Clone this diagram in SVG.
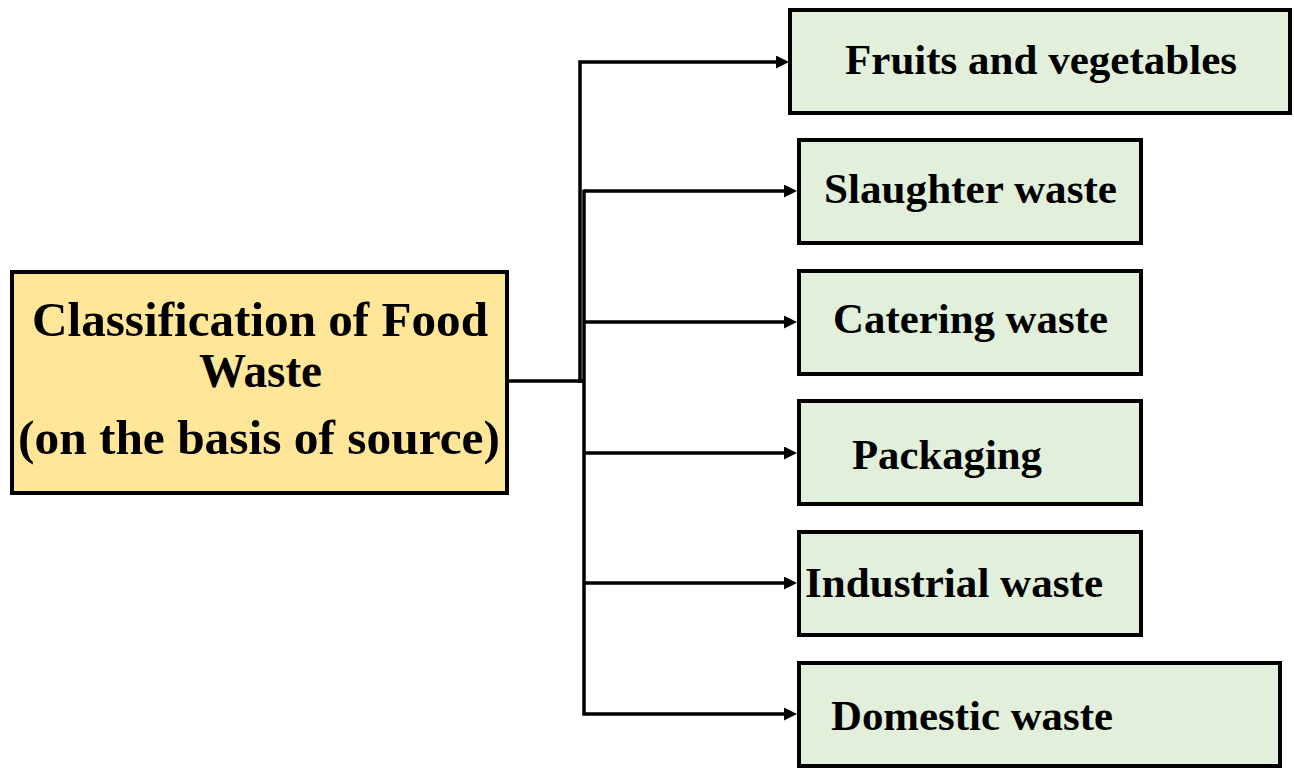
<svg xmlns="http://www.w3.org/2000/svg" width="1294" height="768" viewBox="0 0 1294 768">
<style>
.box{stroke:#000;stroke-width:4}
.main{fill:#FFE699}
.leaf{fill:#E2EFDA}
.t{font-family:"Liberation Serif","Times New Roman",serif;font-weight:bold;fill:#000}
.title{font-size:48px}
.lbl{font-size:43px}
.c{fill:none;stroke:#000;stroke-width:3.5;stroke-linejoin:miter}
</style>
<defs>
<marker id="ah" markerUnits="userSpaceOnUse" markerWidth="13" markerHeight="13" viewBox="0 0 13 13" refX="7" refY="6.5" orient="auto">
<path d="M0,0 L13,6.5 L0,13 z" fill="#000"/>
</marker>
</defs>
<rect width="1294" height="768" fill="#fff"/>
<g id="connectors">
<path class="c" d="M507,381 H584"/>
<path class="c" d="M580,383 V62 H783" marker-end="url(#ah)"/>
<path class="c" d="M584,189.5 V714 H791" marker-end="url(#ah)"/>
<path class="c" d="M584,191 H791" marker-end="url(#ah)"/>
<path class="c" d="M584,322 H791" marker-end="url(#ah)"/>
<path class="c" d="M584,453 H791" marker-end="url(#ah)"/>
<path class="c" d="M584,583 H791" marker-end="url(#ah)"/>
</g>
<g id="root">
<rect class="box main" x="12" y="272" width="495" height="221"/>
<text class="t title" x="260" y="336" text-anchor="middle" textLength="456" lengthAdjust="spacingAndGlyphs">Classification of Food</text>
<text class="t title" x="260.5" y="387" text-anchor="middle" textLength="123" lengthAdjust="spacingAndGlyphs">Waste</text>
<text class="t title" x="259" y="454" text-anchor="middle" textLength="482" lengthAdjust="spacingAndGlyphs">(on the basis of source)</text>
</g>
<g id="fruits">
<rect class="box leaf" x="790" y="10" width="500" height="103"/>
<text class="t lbl" x="845" y="74" textLength="392" lengthAdjust="spacingAndGlyphs">Fruits and vegetables</text>
</g>
<g id="slaughter">
<rect class="box leaf" x="799" y="140" width="342" height="103"/>
<text class="t lbl" x="824" y="203" textLength="293" lengthAdjust="spacingAndGlyphs">Slaughter waste</text>
</g>
<g id="catering">
<rect class="box leaf" x="799" y="271" width="342" height="103"/>
<text class="t lbl" x="833" y="333" textLength="275" lengthAdjust="spacingAndGlyphs">Catering waste</text>
</g>
<g id="packaging">
<rect class="box leaf" x="799" y="401" width="342" height="103"/>
<text class="t lbl" x="852" y="469" textLength="190" lengthAdjust="spacingAndGlyphs">Packaging</text>
</g>
<g id="industrial">
<rect class="box leaf" x="799" y="532" width="342" height="103"/>
<text class="t lbl" x="805" y="597" textLength="298" lengthAdjust="spacingAndGlyphs">Industrial waste</text>
</g>
<g id="domestic">
<rect class="box leaf" x="799" y="663" width="481" height="103"/>
<text class="t lbl" x="831" y="730" textLength="282" lengthAdjust="spacingAndGlyphs">Domestic waste</text>
</g>
</svg>
